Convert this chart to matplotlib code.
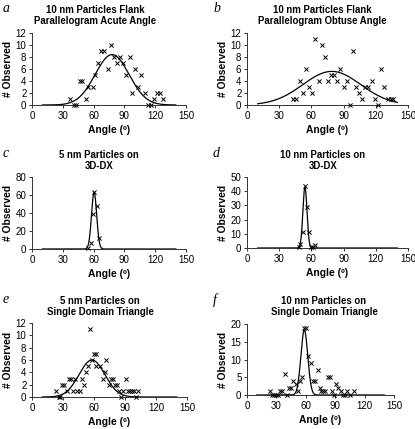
import numpy as np
import matplotlib
matplotlib.use('Agg')
import matplotlib.pyplot as plt

plt.rcParams['font.family'] = ['Liberation Sans', 'DejaVu Sans']

# %%
# observed counts
a_angle = [37, 41, 43, 47, 49, 52.5, 55, 59, 61, 64.5, 67.5, 70.5, 73.7, 76.6, 80, 82.5,
           85.4, 89, 91.6, 95, 97.8, 100, 103.7, 106.6, 109.6, 113, 115.8, 118.4, 122, 125, 128]
a_count = [1, 0, 0, 4, 4, 1, 3, 3, 5, 7, 9, 9, 6, 10, 8, 7,
           8, 7, 5, 8, 2, 6, 3, 5, 2, 0, 0, 1, 2, 2, 1]

b_angle = [43, 46, 49, 52, 55, 58, 60.6, 63.7, 66.7, 69.5, 72.5, 75.3, 78.4, 81, 84.2, 87,
           90, 93, 95.8, 98.9, 101.6, 104.7, 107.4, 110, 113, 116, 119, 122, 125, 128,
           131, 133.8, 135.6]
b_count = [1, 1, 4, 2, 6, 3, 2, 11, 4, 10, 8, 4, 5, 5, 4, 6,
           3, 4, 0, 9, 3, 2, 1, 3, 3, 4, 1, 0, 6, 3,
           1, 1, 1]

c_angle = [55, 57, 59, 60.6, 63, 65]
c_count = [1, 7, 39, 63, 48, 12]

d_angle = [48.5, 49.7, 51.9, 53.7, 55.6, 57.7, 59.5, 61.4, 63.2]
d_count = [1, 3, 11, 44, 29, 11, 1, 1, 2]

e_angle = [23.5, 25.8, 27.4, 29.4, 31.3, 33.9, 35.5, 37.4, 40, 42, 44, 46, 48, 50, 52, 54,
           56, 58, 60, 62, 62.3, 66, 68.4, 70.3, 72, 74.5, 76.5, 78.4, 80.6, 82.6, 84.5,
           86.5, 88.4, 90.6, 92.6, 94.5, 96.5, 98.4, 100.3, 102.6]
e_count = [1, 0, 0, 2, 2, 1, 3, 3, 1, 3, 1, 1, 3, 2, 4, 5,
           11, 6, 7, 7, 5, 5, 3, 4, 6, 2, 3, 3, 2, 2, 1,
           0, 1, 3, 1, 1, 1, 1, 0, 1]

f_angle = [23.9, 25.6, 27.6, 29.7, 31.7, 34, 36, 39, 41, 43.3, 45.3, 47.4, 50, 52, 54.2,
           56.3, 58.3, 60.3, 62.7, 65, 67.2, 69.2, 72, 74, 76, 78, 80, 82.8, 85, 87, 89,
           91, 93, 95.5, 97.5, 99.6, 102, 105, 109]
f_count = [1, 0, 0, 0, 0, 1, 1, 6, 0, 2, 2, 4, 3, 1, 4,
           5, 19, 19, 11, 9, 4, 4, 7, 2, 1, 1, 1, 5, 5, 1, 0,
           3, 2, 1, 0, 0, 1, 0, 1]

# gaussian fit (amplitude, centre, width) drawn in each panel
fit_amp = [8.4, 5.6, 63, 43, 6.0, 18.3]
fit_mu = [78, 79, 60.5, 54, 58, 58.5]
fit_sigma = [16.5, 27, 2.5, 1.9, 12.5, 3.5]

titles = ['10 nm Particles Flank\nParallelogram Acute Angle',
          '10 nm Particles Flank\nParallelogram Obtuse Angle',
          '5 nm Particles on\n3D-DX',
          '10 nm Particles on\n3D-DX',
          '5 nm Particles on\nSingle Domain Triangle',
          '10 nm Particles on\nSingle Domain Triangle']
letters = ['a', 'b', 'c', 'd', 'e', 'f']
ymax = [12, 12, 80, 50, 12, 20]
ystep = [2, 2, 20, 10, 2, 5]
xticks = [0, 30, 60, 90, 120, 150]

angles = [a_angle, b_angle, c_angle, d_angle, e_angle, f_angle]
counts = [a_count, b_count, c_count, d_count, e_count, f_count]

# %%
W, H = 415, 429
fig = plt.figure(figsize=(W / 100, H / 100), dpi=100)

# axes boxes in pixels: left, right, top, bottom
boxes = [(32, 186, 33, 105), (247, 408, 33, 105),
         (32, 186, 177, 249), (247, 408, 177, 248),
         (32, 187, 323, 397), (247, 394, 324, 395)]
title_x = [95, 322, 99, 323, 100, 324]
title_y = [5, 5, 150, 150, 296, 296]
letter_pos = [(3, 2), (213, 2), (3, 147), (213, 147), (3, 293), (213, 293)]

xfit = np.linspace(10, 140, 400)

for i in range(6):
    l, r, t, b = boxes[i]
    ax = fig.add_axes([l / W, 1 - b / H, (r - l) / W, (b - t) / H])
    yfit = fit_amp[i] * np.exp(-(xfit - fit_mu[i]) ** 2 / (2 * fit_sigma[i] ** 2))
    ax.plot(xfit, yfit, color='black', lw=0.9, zorder=2)
    ax.scatter(angles[i], counts[i], marker='x', s=9, color='black', linewidths=0.7,
               zorder=3, clip_on=False)
    ax.set_xlim(0, 150)
    ax.set_ylim(0, ymax[i])
    ax.set_xticks(xticks)
    ax.set_yticks(np.arange(0, ymax[i] + 1, ystep[i]))
    for s in ['top', 'right']:
        ax.spines[s].set_visible(False)
    for s in ['left', 'bottom']:
        ax.spines[s].set_linewidth(0.7)
        ax.spines[s].set_color('#333333')
    ax.tick_params(direction='out', length=2.5, width=0.7, labelsize=7, pad=1.5,
                   colors='#333333', labelcolor='black')
    ax.set_xlabel('Angle (º)', fontsize=7.4, fontweight='bold', labelpad=3)
    ax.set_ylabel('# Observed', fontsize=7.4, fontweight='bold', labelpad=2)
    fig.text(title_x[i] / W, 1 - title_y[i] / H, titles[i], ha='center', va='top',
             fontsize=6.9, fontweight='bold', linespacing=1.1)
    fig.text(letter_pos[i][0] / W, 1 - letter_pos[i][1] / H, letters[i], ha='left', va='top',
             fontsize=10, style='italic', family='Liberation Serif')

fig.savefig('out.png', dpi=100)
